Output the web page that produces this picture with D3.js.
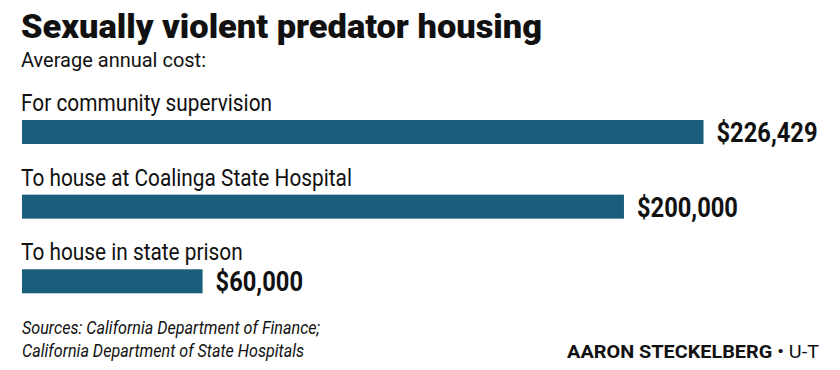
<!DOCTYPE html>
<html>
<head>
<meta charset="utf-8">
<script src="https://cdn.jsdelivr.net/npm/d3@7"></script>
<style>
  body { margin: 0; background: #fff; }
  svg text { font-family: Roboto, "Liberation Sans", sans-serif; fill: #111; }
</style>
</head>
<body>
<div id="chart"></div>
<script>
var categories = ['For community supervision', 'To house at Coalinga State Hospital', 'To house in state prison']
var costs = [226429, 200000, 60000]
var title = 'Sexually violent predator housing'
var subtitle = 'Average annual cost:'
var sources = ['Sources: California Department of Finance;', 'California Department of State Hospitals']
var credit = ['AARON STECKELBERG', ' • U-T']

var width = 840, height = 370
var svg = d3.select('#chart').append('svg')
    .attr('width', width)
    .attr('height', height)

// condensed newspaper face: squeeze Roboto so the first line fits the measured width
function fit(sel, target) {
    return target / sel.node().getComputedTextLength()
}
function squeeze(sel, k) {
    sel.each(function() {
        var w = this.getComputedTextLength()
        d3.select(this).attr('textLength', w * k).attr('lengthAdjust', 'spacingAndGlyphs')
    })
}

var t = svg.append('text')
    .attr('x', 21).attr('y', 38)
    .style('font-size', '34px').style('font-weight', 900)
    .text(title)
squeeze(t, fit(t, 521))

var st = svg.append('text')
    .attr('x', 21).attr('y', 67)
    .style('font-size', '21px')
    .text(subtitle)
squeeze(st, fit(st, 185))

var x = d3.scaleLinear()
    .domain([0, d3.max(costs)])
    .range([22, 703.5])

var y = d3.scalePoint()
    .domain(categories)
    .range([120, 269.3])

var data = categories.map(function(c, i) { return { cat: c, value: costs[i] } })
var barH = 24

var g = svg.append('g')

g.selectAll('rect')
    .data(data)
    .enter().append('rect')
    .attr('x', x(0))
    .attr('y', function(d) { return y(d.cat) })
    .attr('width', function(d) { return x(d.value) - x(0) })
    .attr('height', barH)
    .attr('fill', '#1b5e7b')

var cats = g.selectAll('text.cat')
    .data(data)
    .enter().append('text')
    .attr('class', 'cat')
    .attr('x', x(0) - 1)
    .attr('y', function(d) { return y(d.cat) - 9 })
    .style('font-size', '24px')
    .text(function(d) { return d.cat })
squeeze(cats, fit(d3.select(cats.nodes()[0]), 251))

var fmt = d3.format('$,')
var vals = g.selectAll('text.val')
    .data(data)
    .enter().append('text')
    .attr('class', 'val')
    .attr('x', function(d) { return x(d.value) + 13 })
    .attr('y', function(d) { return y(d.cat) + barH / 2 + 10 })
    .style('font-size', '27px').style('font-weight', 700)
    .text(function(d) { return fmt(d.value) })
squeeze(vals, fit(d3.select(vals.nodes()[0]), 101))

var src = svg.append('g').selectAll('text')
    .data(sources)
    .enter().append('text')
    .attr('x', 22)
    .attr('y', function(d, i) { return 334 + i * 22.5 })
    .style('font-size', '17.5px').style('font-style', 'italic')
    .text(function(d) { return d })
squeeze(src, fit(d3.select(src.nodes()[0]), 298))

var cr = svg.append('text')
    .attr('x', 819).attr('y', 358)
    .attr('text-anchor', 'end')
    .style('font-size', '18px')
cr.append('tspan').style('font-weight', 700).text(credit[0])
cr.append('tspan').text(credit[1])
var crK = 252 / cr.node().getComputedTextLength()
cr.attr('transform', 'translate(819,0) scale(' + crK + ',1) translate(-819,0)')
</script>
</body>
</html>
